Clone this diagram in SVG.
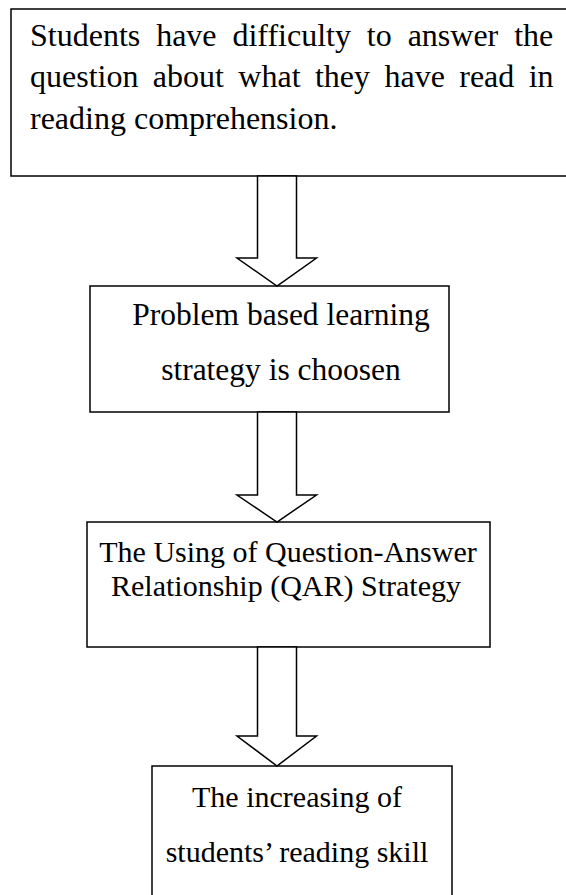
<svg xmlns="http://www.w3.org/2000/svg" width="566" height="895" viewBox="0 0 566 895">
<style>
.box{fill:#fff;stroke:#000;stroke-width:1.5}
.arr{fill:#fff;stroke:#000;stroke-width:1.5;stroke-linejoin:miter}
text{font-family:"Liberation Serif","Times New Roman",serif;font-size:30px;fill:#000}
.t{font-size:32px}
.b2{font-size:31.5px}
.c{text-anchor:middle}
</style>
<rect width="566" height="895" fill="#fff"/>
<g id="n1">
<rect class="box" x="11" y="9" width="560" height="167"/>
<text class="t" x="30" y="46" word-spacing="7.9">Students have difficulty to answer the</text>
<text class="t" x="30" y="87" word-spacing="6.4">question about what they have read in</text>
<text class="t" x="30" y="129">reading comprehension.</text>
</g>
<g id="n2">
<rect class="box" x="90" y="286" width="359" height="126"/>
<text class="c b2" x="281" y="325">Problem based learning</text>
<text class="c b2" x="281" y="380">strategy is choosen</text>
</g>
<g id="n3">
<rect class="box" x="87" y="522" width="403" height="125"/>
<text class="c" x="288" y="562">The Using of Question-Answer</text>
<text class="c" x="286" y="596" font-size="30.5">Relationship (QAR) Strategy</text>
</g>
<g id="n4">
<rect class="box" x="152" y="766" width="300" height="140"/>
<text class="c" x="297" y="807">The increasing of</text>
<text class="c" x="297" y="862">students’ reading skill</text>
</g>
<g id="connectors">
<polygon class="arr" points="257.5,176 296.5,176 296.5,258 316.5,258 277,286 237,258 257.5,258"/>
<polygon class="arr" points="257.5,412 296.5,412 296.5,495 316.5,495 277,522 237,495 257.5,495"/>
<polygon class="arr" points="257.5,647 296.5,647 296.5,736 316.5,736 277,766 237,736 257.5,736"/>
</g>
</svg>
